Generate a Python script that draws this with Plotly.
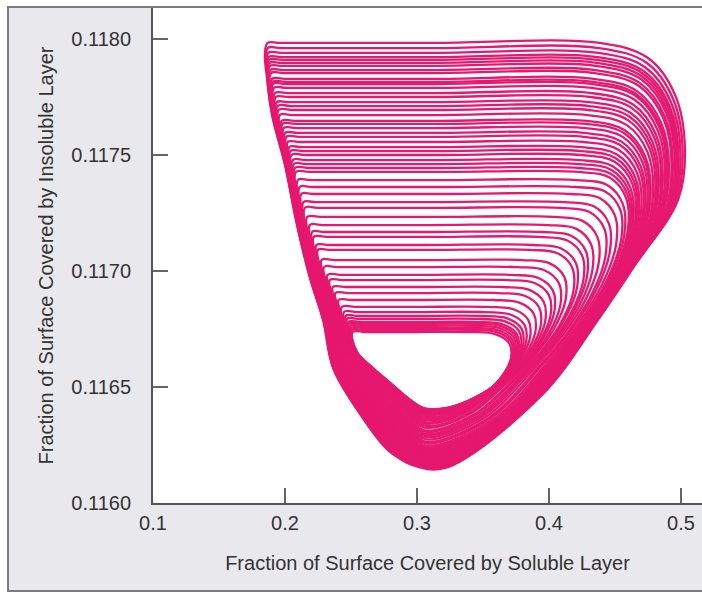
import numpy as np
import plotly.graph_objects as go

# Level (insoluble-layer fraction) of the horizontal run of each loop, read top to bottom
loop_levels = [0.117983, 0.117961, 0.117940, 0.117922, 0.117910, 0.117897, 0.117884, 0.117866,
               0.117853, 0.117828, 0.117815, 0.117806, 0.117789, 0.117767, 0.117750, 0.117728,
               0.117711, 0.117694, 0.117672, 0.117647, 0.117634, 0.117616, 0.117595, 0.117578,
               0.117556, 0.117534, 0.117517, 0.117500, 0.117478, 0.117461, 0.117444, 0.117427,
               0.117392, 0.117362, 0.117332, 0.117297, 0.117272, 0.117233, 0.117198, 0.117168,
               0.117147, 0.117112, 0.117091, 0.117047, 0.117017, 0.116983, 0.116961, 0.116931,
               0.116905, 0.116875, 0.116845, 0.116823, 0.116806, 0.116793, 0.116780, 0.116772,
               0.116763, 0.116754, 0.116746, 0.116737]

# Descending (right-hand) side of the outermost, a middle and the innermost loop
down_outer_x = [0.4386, 0.4750, 0.4955, 0.5030, 0.4977, 0.4652, 0.4371, 0.3947, 0.3212]
down_outer_y = [0.117983, 0.117918, 0.117759, 0.117522, 0.117306, 0.117026, 0.116789, 0.116466, 0.116151]
down_mid_x = [0.4197, 0.4424, 0.4538, 0.4545, 0.4439, 0.4258, 0.4008, 0.3591, 0.3061]
down_mid_y = [0.117360, 0.117341, 0.117263, 0.117134, 0.116961, 0.116789, 0.116608, 0.116358, 0.116241]
down_inner_x = [0.3402, 0.3591, 0.3697, 0.3712, 0.3644, 0.3523, 0.3371, 0.3212, 0.3053]
down_inner_y = [0.116737, 0.116728, 0.116690, 0.116625, 0.116547, 0.116478, 0.116435, 0.116409, 0.116409]

# Ascending (left-hand) band of the outermost and the innermost loop
up_outer_x = [0.2962, 0.2780, 0.2553, 0.2364, 0.2288, 0.2189, 0.2091, 0.2000, 0.1902, 0.1864, 0.1848]
up_outer_y = [0.116164, 0.116228, 0.116397, 0.116582, 0.116789, 0.116970, 0.117198, 0.117457, 0.117672, 0.117832, 0.117931]
up_inner_x = [0.2902, 0.2780, 0.2659, 0.2545, 0.2439, 0.2295, 0.2182, 0.2106, 0.2045, 0.2000, 0.1970]
up_inner_y = [0.116466, 0.116526, 0.116586, 0.116651, 0.116823, 0.117039, 0.117263, 0.117487, 0.117694, 0.117832, 0.117918]

x_ticks = [0.1, 0.2, 0.3, 0.4, 0.5]
x_tick_text = ["0.1", "0.2", "0.3", "0.4", "0.5"]
y_ticks = [0.1160, 0.1165, 0.1170, 0.1175, 0.1180]
y_tick_text = ["0.1160", "0.1165", "0.1170", "0.1175", "0.1180"]
x_title = "Fraction of Surface Covered by Soluble Layer"
y_title = "Fraction of Surface Covered by Insoluble Layer"

LINE_COLOR = "#e6186f"
FONT = "Liberation Sans, Arial, Helvetica, sans-serif"

dox, doy = np.array(down_outer_x), np.array(down_outer_y)
dmx, dmy = np.array(down_mid_x), np.array(down_mid_y)
dix, diy = np.array(down_inner_x), np.array(down_inner_y)
uox, uoy = np.array(up_outer_x), np.array(up_outer_y)
uix, uiy = np.array(up_inner_x), np.array(up_inner_y)

top_level = down_outer_y[0]
low_level = down_inner_y[0]

fig = go.Figure()
for h in loop_levels:
    s = min(max((h - low_level) / (top_level - low_level), 0.0), 1.0)
    if s <= 0.5:
        t = s / 0.5
        cx = dix + t * (dmx - dix)
        cy = diy + t * (dmy - diy)
    else:
        t = (s - 0.5) / 0.5
        cx = dmx + t * (dox - dmx)
        cy = dmy + t * (doy - dmy)
    ux = uix + s * (uox - uix)
    uy = uiy + s * (uoy - uiy)
    below = uy < h - 0.000045
    xb = float(np.interp(h, uy, ux)) + 0.002
    px = list(ux[below]) + [xb, xb + 0.010, (xb + cx[0]) / 2] + list(cx) + [ux[0], ux[1]]
    py = list(uy[below]) + [h, h, h] + list(cy) + [uy[0], uy[1]]
    fig.add_trace(go.Scatter(
        x=px, y=py, mode="lines",
        line=dict(color=LINE_COLOR, width=2.3, shape="spline", smoothing=1.0),
        showlegend=False, hoverinfo="skip"))

# Figure geometry in page pixels (702 x 600)
FIG_W, FIG_H = 702, 600
L, R, T, B = 153, 0, 8, 97
W = FIG_W - L - R
H = FIG_H - T - B


def fx(p):
    return (p - L) / W


def fy(p):
    return (FIG_H - B - p) / H


frame = "#7a7a7a"
shapes = [
    # white surround outside the grey frame
    dict(type="rect", xref="paper", yref="paper", x0=fx(0), x1=fx(7), y0=fy(FIG_H), y1=fy(0),
         fillcolor="white", line_width=0, layer="below"),
    dict(type="rect", xref="paper", yref="paper", x0=fx(0), x1=fx(FIG_W), y0=fy(6), y1=fy(0),
         fillcolor="white", line_width=0, layer="below"),
    dict(type="rect", xref="paper", yref="paper", x0=fx(0), x1=fx(FIG_W), y0=fy(FIG_H), y1=fy(592),
         fillcolor="white", line_width=0, layer="below"),
    # frame lines
    dict(type="line", xref="paper", yref="paper", x0=fx(7), x1=fx(FIG_W), y0=fy(7), y1=fy(7),
         line=dict(color=frame, width=2)),
    dict(type="line", xref="paper", yref="paper", x0=fx(8), x1=fx(8), y0=fy(591), y1=fy(7),
         line=dict(color=frame, width=2)),
    dict(type="line", xref="paper", yref="paper", x0=fx(7), x1=fx(FIG_W), y0=fy(591), y1=fy(591),
         line=dict(color=frame, width=2)),
]

fig.update_layout(
    width=FIG_W, height=FIG_H,
    margin=dict(l=L, r=R, t=T, b=B, pad=0),
    paper_bgcolor="#e9e9ed",
    plot_bgcolor="white",
    font=dict(family=FONT, size=20, color="#333333"),
    shapes=shapes,
    xaxis=dict(
        range=[0.1, 0.1 + W / 1320.0],
        tickvals=x_ticks, ticktext=x_tick_text,
        ticks="inside", ticklen=15, tickwidth=2, tickcolor="#666666",
        showline=True, linecolor="#555555", linewidth=2,
        showgrid=False, zeroline=False,
        ticklabelstandoff=1,
        tickfont=dict(size=20, color="#333333"),
        title=dict(text=x_title, font=dict(size=20, color="#333333"), standoff=23),
    ),
    yaxis=dict(
        range=[0.1160, 0.1160 + H / 232000.0],
        tickvals=y_ticks, ticktext=y_tick_text,
        ticks="inside", ticklen=15, tickwidth=2, tickcolor="#666666",
        showline=True, linecolor="#555555", linewidth=2,
        showgrid=False, zeroline=False,
        ticklabelstandoff=16,
        tickfont=dict(size=20, color="#333333"),
        title=dict(text=y_title, font=dict(size=20, color="#333333"), standoff=12),
    ),
)

fig.write_html(
    "out.html",
    config={"displayModeBar": False},
    post_script="document.body.style.margin='0px';document.body.style.overflow='hidden';",
)
